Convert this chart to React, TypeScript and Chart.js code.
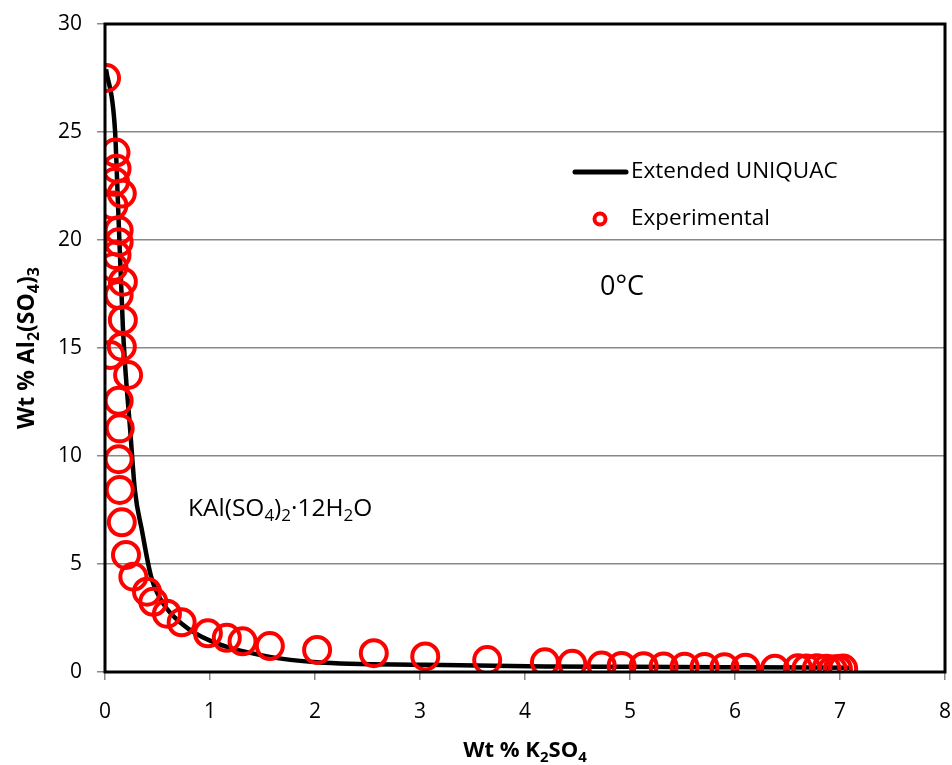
import React, { useEffect, useRef } from "react";
import { Chart, registerables } from "chart.js";

Chart.register(...registerables);

// Extended UNIQUAC model curve
const modelK2SO4 = [0.01, 0.095, 0.125, 0.17, 0.19, 0.24, 0.285, 0.35, 0.44, 0.55, 0.74, 1.0, 1.57, 2.02, 3.05, 4.2, 5.0, 6.0, 7.1];
const modelAl2SO43 = [27.9, 25.1, 21.5, 16.0, 14.3, 11.2, 8.4, 6.6, 4.4, 3.2, 2.2, 1.45, 0.7, 0.45, 0.33, 0.26, 0.24, 0.22, 0.2];

// Experimental points
const expK2SO4 = [
  0.01, 0.1, 0.11, 0.095, 0.16, 0.08, 0.13, 0.13, 0.11, 0.08, 0.17, 0.13, 0.17,
  0.16, 0.05, 0.22, 0.13, 0.14, 0.13, 0.14, 0.16, 0.2, 0.27, 0.4, 0.46, 0.59, 0.73,
  0.98, 1.16, 1.31, 1.57, 2.02, 2.56, 3.05, 3.64, 4.19, 4.45, 4.73, 4.92, 5.13,
  5.32, 5.52, 5.71, 5.9, 6.1, 6.38, 6.6, 6.68, 6.78, 6.87, 6.93, 6.98, 7.03,
];
const expAl2SO43 = [
  27.5, 24.05, 23.3, 22.7, 22.15, 21.6, 20.45, 19.9, 19.3, 18.75, 18.07, 17.45, 16.3,
  15.06, 14.68, 13.75, 12.56, 11.28, 9.85, 8.43, 6.93, 5.42, 4.41, 3.72, 3.25, 2.7, 2.3,
  1.79, 1.58, 1.42, 1.2, 1.02, 0.87, 0.72, 0.55, 0.45, 0.38, 0.3, 0.28, 0.27,
  0.25, 0.24, 0.23, 0.22, 0.2, 0.15, 0.17, 0.16, 0.17, 0.15, 0.12, 0.14, 0.16,
];

const xTicks = [0, 1, 2, 3, 4, 5, 6, 7, 8];
const yTicks = [0, 5, 10, 15, 20, 25, 30];

const FONT = "'Open Sans', sans-serif";

type Seg = { t: string; sub?: boolean };

function richWidth(ctx: CanvasRenderingContext2D, segs: Seg[], size: number, weight: string) {
  let w = 0;
  for (const s of segs) {
    ctx.font = `${weight} ${s.sub ? Math.round(size * 0.68) : size}px ${FONT}`;
    w += ctx.measureText(s.t).width;
  }
  return w;
}

function drawRich(ctx: CanvasRenderingContext2D, segs: Seg[], x: number, y: number, size: number, weight: string) {
  let cx = x;
  ctx.textBaseline = "alphabetic";
  ctx.textAlign = "left";
  for (const s of segs) {
    const fs = s.sub ? Math.round(size * 0.68) : size;
    ctx.font = `${weight} ${fs}px ${FONT}`;
    ctx.fillText(s.t, cx, s.sub ? y + size * 0.22 : y);
    cx += ctx.measureText(s.t).width;
  }
}

const decor = {
  id: "decor",
  afterDatasetsDraw(chart: any) {
    const { ctx, chartArea } = chart;
    const xs0 = chart.scales.x;
    ctx.save();
    // plot border
    ctx.strokeStyle = "#000";
    ctx.lineWidth = 3;
    ctx.strokeRect(chartArea.left, chartArea.top, chartArea.right - chartArea.left, chartArea.bottom - chartArea.top);

    ctx.fillStyle = "#000";
    // x tick labels
    ctx.font = `400 21px ${FONT}`;
    ctx.textAlign = "center";
    ctx.textBaseline = "middle";
    for (const v of xTicks) {
      ctx.fillText(String(v), xs0.getPixelForValue(v), chartArea.bottom + 40);
    }

    // legend
    ctx.lineCap = "round";
    ctx.lineWidth = 5;
    ctx.beginPath();
    ctx.moveTo(575, 172);
    ctx.lineTo(626, 172);
    ctx.stroke();
    ctx.font = `400 22.5px ${FONT}`;
    ctx.textBaseline = "middle";
    ctx.textAlign = "left";
    ctx.fillText("Extended UNIQUAC", 631, 172);
    ctx.strokeStyle = "#ff0000";
    ctx.lineWidth = 4;
    ctx.beginPath();
    ctx.arc(600, 219, 5.5, 0, Math.PI * 2);
    ctx.stroke();
    ctx.fillText("Experimental", 631, 219);

    // temperature
    ctx.font = `400 27px ${FONT}`;
    ctx.fillText("0°C", 600, 287);

    // solid phase label
    const ks: Seg[] = [{ t: "KAl(SO" }, { t: "4", sub: true }, { t: ")" }, { t: "2", sub: true }, { t: "·12H" }, { t: "2", sub: true }, { t: "O" }];
    drawRich(ctx, ks, 188, 516, 24.5, "400");

    // x title
    const xs: Seg[] = [{ t: "Wt % K" }, { t: "2", sub: true }, { t: "SO" }, { t: "4", sub: true }];
    const xw = richWidth(ctx, xs, 22, "700");
    drawRich(ctx, xs, (chartArea.left + chartArea.right) / 2 - xw / 2, 757, 22, "700");

    // y title
    const ys: Seg[] = [{ t: "Wt % Al" }, { t: "2", sub: true }, { t: "(SO" }, { t: "4", sub: true }, { t: ")" }, { t: "3", sub: true }];
    const yw = richWidth(ctx, ys, 23, "700");
    ctx.translate(34, (chartArea.top + chartArea.bottom) / 2);
    ctx.rotate(-Math.PI / 2);
    drawRich(ctx, ys, -yw / 2, 0, 23, "700");
    ctx.restore();
  },
};

export default function App() {
  const ref = useRef<HTMLCanvasElement | null>(null);
  useEffect(() => {
    if (!ref.current) return;
    const modelData = modelK2SO4.map((x, i) => ({ x, y: modelAl2SO43[i] }));
    const expData = expK2SO4.map((x, i) => ({ x, y: expAl2SO43[i] }));
    const chart = new Chart(ref.current, {
      type: "scatter",
      data: {
        datasets: [
          {
            label: "Extended UNIQUAC",
            data: modelData,
            showLine: true,
            borderColor: "#000",
            borderWidth: 4.5,
            pointRadius: 0,
            cubicInterpolationMode: "monotone",
            order: 2,
          } as any,
          {
            label: "Experimental",
            data: expData,
            borderColor: "#ff0000",
            backgroundColor: "rgba(0,0,0,0)",
            borderWidth: 4,
            pointRadius: 13,
            order: 1,
          },
        ],
      },
      options: {
        animation: false,
        responsive: false,
        layout: { autoPadding: false, padding: { top: 24, right: 7, left: 0, bottom: 0 } },
        plugins: { legend: { display: false }, tooltip: { enabled: false } },
        scales: {
          x: {
            type: "linear",
            min: 0,
            max: 8,
            afterBuildTicks: (s: any) => { s.ticks = xTicks.map((v) => ({ value: v })); },
            afterFit: (s: any) => { s.height = 93; s.paddingLeft = 0; s.paddingRight = 0; },
            grid: { drawOnChartArea: false, drawTicks: true, tickLength: 8, color: "#888", lineWidth: 1.5 },
            border: { display: false },
            ticks: { display: false },
          },
          y: {
            type: "linear",
            min: 0,
            max: 30,
            afterBuildTicks: (s: any) => { s.ticks = yTicks.map((v) => ({ value: v })); },
            afterFit: (s: any) => { s.width = 105; s.paddingTop = 0; s.paddingBottom = 0; },
            grid: { color: "#888", lineWidth: 1.5, tickLength: 8 },
            border: { display: false },
            ticks: { color: "#000", font: { family: FONT, size: 21 }, padding: 15 },
          },
        },
      },
      plugins: [decor],
    });
    return () => chart.destroy();
  }, []);
  return (
    <div style={{ position: "absolute", left: 0, top: 0, width: 952, height: 765, background: "#fff" }}>
      <canvas ref={ref} width={952} height={765} style={{ display: "block" }} />
    </div>
  );
}
